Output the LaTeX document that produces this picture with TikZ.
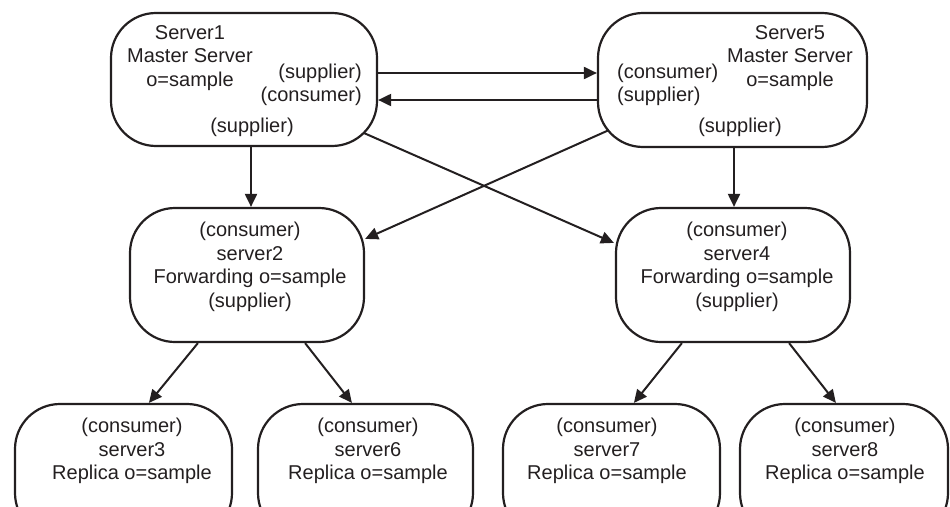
\documentclass[tikz,border=0pt]{standalone}
\usepackage{fontspec}
\setmainfont{Liberation Sans}
\usetikzlibrary{arrows.meta}
\definecolor{ink}{RGB}{35,31,32}
\begin{document}
\begin{tikzpicture}[x=1pt,y=-1pt,
  box/.style={draw=ink, line width=2.2pt, rounded corners=45pt, inner sep=0pt},
  txt/.style={text=ink, font=\fontsize{20}{23.5}\selectfont, inner sep=0pt, align=center},
  arr/.style={draw=ink, line width=2pt, -{Triangle[length=13pt,width=12pt]}}]
\useasboundingbox (0,0) rectangle (950,506);
\clip (0,0) rectangle (950,506);
% boxes
\node[box, minimum width=266pt, minimum height=133pt] (s1) at (244,79.5) {};
\node[box, minimum width=269pt, minimum height=134pt] (s5) at (732.5,80) {};
\node[box, minimum width=234pt, minimum height=134pt] (s2) at (247,275) {};
\node[box, minimum width=234pt, minimum height=134pt] (s4) at (733,275) {};
\node[box, minimum width=217pt, minimum height=134pt] (s3) at (123.5,471) {};
\node[box, minimum width=215pt, minimum height=134pt] (s6) at (365.5,471) {};
\node[box, minimum width=217pt, minimum height=134pt] (s7) at (611.5,471) {};
\node[box, minimum width=208pt, minimum height=134pt] (s8) at (844,471) {};
% texts
\node[txt] (t1) at (190,57.7) {Server1\\Master Server\\o=sample};
\node[txt, align=right, anchor=east] (t1r) at (362,85) {(supplier)\\(consumer)};
\node[txt] (t1b) at (252,127) {(supplier)};
\node[txt] (t5) at (790,57.7) {Server5\\Master Server\\o=sample};
\node[txt, align=left, anchor=west] (t5l) at (617,85) {(consumer)\\(supplier)};
\node[txt] (t5b) at (740,127) {(supplier)};
\node[txt] (t2) at (250,267) {(consumer)\\server2\\Forwarding o=sample\\(supplier)};
\node[txt] (t4) at (737,267) {(consumer)\\server4\\Forwarding o=sample\\(supplier)};
\node[txt] (t3) at (132,451) {(consumer)\\server3\\Replica o=sample};
\node[txt] (t6) at (368,451) {(consumer)\\server6\\Replica o=sample};
\node[txt] (t7) at (607,451) {(consumer)\\server7\\Replica o=sample};
\node[txt] (t8) at (845,451) {(consumer)\\server8\\Replica o=sample};
% connectors
\draw[arr] ([yshift=6.5pt]s1.east) -- ([yshift=7pt]s5.west);
\draw[arr] ([yshift=-20pt]s5.west) -- ([yshift=-20.5pt]s1.east);
\draw[arr] ([xshift=7pt]s1.south) -- ([xshift=4pt]s2.north);
\draw[arr] ([xshift=1.5pt]s5.south) -- ([xshift=1pt]s4.north);
\draw[arr] ([xshift=-14pt,yshift=14pt]s1.south east) -- ([xshift=-1pt,yshift=-36pt]s4.north west);
\draw[arr] ([xshift=12pt,yshift=18pt]s5.south west) -- ([xshift=0pt,yshift=-32pt]s2.north east);
\draw[arr] ([xshift=69pt]s2.south west) -- ([xshift=135pt]s3.north west);
\draw[arr] ([xshift=-60pt]s2.south east) -- ([xshift=95pt]s6.north west);
\draw[arr] ([xshift=67pt]s4.south west) -- ([xshift=132pt]s7.north west);
\draw[arr] ([xshift=-62pt]s4.south east) -- ([xshift=97pt]s8.north west);
\end{tikzpicture}
\end{document}
